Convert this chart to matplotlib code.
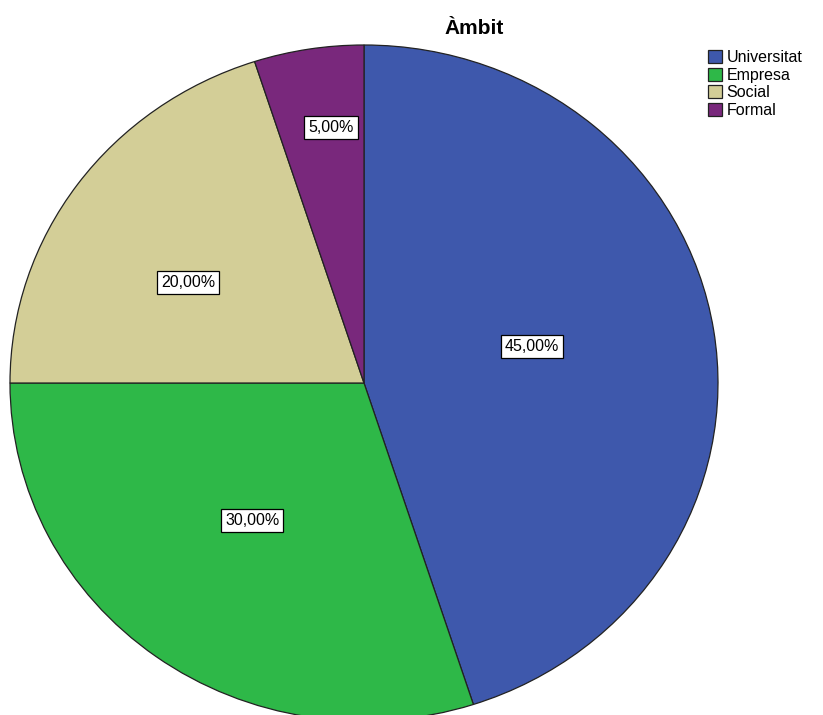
import matplotlib

matplotlib.use("Agg")
import matplotlib.pyplot as plt

# category -> share (%)
labels = ["Universitat", "Empresa", "Social", "Formal"]
values = [45.0, 30.0, 20.0, 5.0]
colors = ["#3E58AC", "#2EB848", "#D3CE97", "#79287C"]

plt.rcParams["font.family"] = ["Liberation Sans", "DejaVu Sans"]

W, H = 823, 715
fig = plt.figure(figsize=(W / 100, H / 100), dpi=100)

# pie bbox in pixels: x 10..718, y 45..721 (slightly elliptical, clipped at bottom)
x0, x1, y0, y1 = 10, 718, 45, 721
ax = fig.add_axes([x0 / W, (H - y1) / H, (x1 - x0) / W, (y1 - y0) / H])
wedges, _ = ax.pie(values, colors=colors, startangle=90, counterclock=False,
                   wedgeprops=dict(edgecolor="#222222", linewidth=0.9))
ax.set_aspect("auto")
ax.set_xlim(-1, 1)
ax.set_ylim(-1, 1)

# value label positions (SPSS style, not on the mid-angle)
label_pos = [(0.475, 0.109), (-0.316, -0.408), (-0.497, 0.296), (-0.093, 0.757)]
for v, (lx, ly) in zip(values, label_pos):
    ax.text(lx, ly, f"{v:.2f}%".replace(".", ","), ha="center", va="center",
            fontsize=11.5,
            bbox=dict(boxstyle="square,pad=0.25", fc="white", ec="black", lw=0.9))

fig.text(474 / W, 1 - 28 / H, "Àmbit", ha="center", va="center",
         fontsize=15, fontweight="bold")

fig.legend(wedges, labels, loc="upper left", bbox_to_anchor=(708 / W, 1 - 50 / H),
           frameon=False, fontsize=11.5, handlelength=0.9, handleheight=0.9,
           handletextpad=0.25, labelspacing=0.15, borderaxespad=0, borderpad=0)

fig.savefig("out.png", dpi=100)
